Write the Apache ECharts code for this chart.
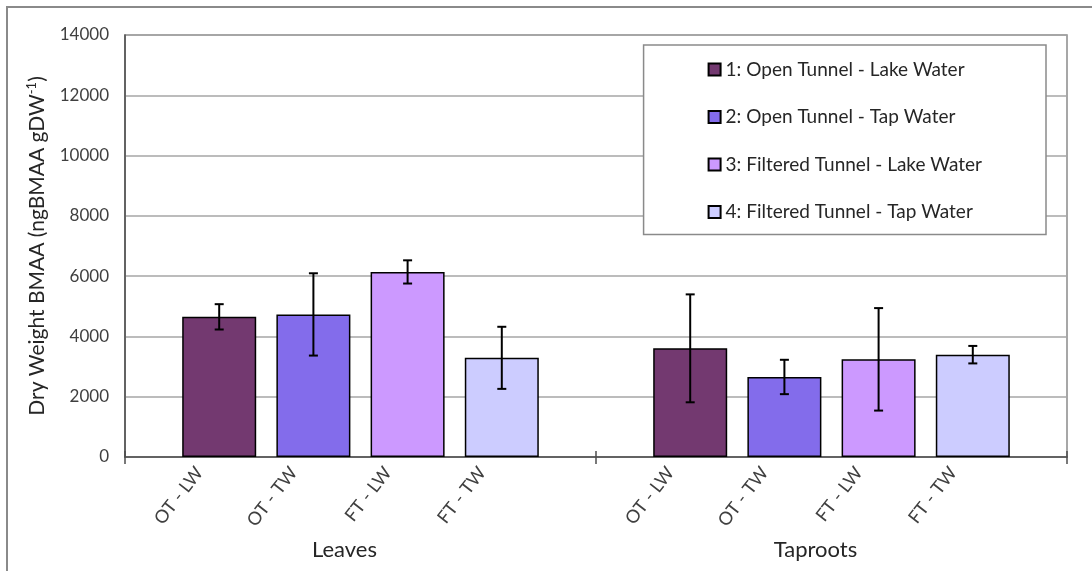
<!DOCTYPE html>
<html>
<head>
<meta charset="utf-8">
<script src="https://cdn.jsdelivr.net/npm/echarts@6/dist/echarts.min.js"></script>
<style>html,body{margin:0;padding:0;background:#fff;}#c{width:1092px;height:571px;}</style>
</head>
<body>
<div id="c"></div>
<script>
// ---- data ----
const categories = ['OT - LW', 'OT - TW', 'FT - LW', 'FT - TW'];
const groups = ['Leaves', 'Taproots'];
const seriesNames = ['1: Open Tunnel - Lake Water', '2: Open Tunnel - Tap Water', '3: Filtered Tunnel - Lake Water', '4: Filtered Tunnel - Tap Water'];
const colors = ['#733970', '#836CEB', '#CC99FF', '#CCCCFF'];
const leavesMean = [4650, 4730, 6140, 3290];
const leavesErr = [420, 1365, 385, 1030];
const taprootsMean = [3605, 2655, 3240, 3395];
const taprootsErr = [1790, 570, 1700, 290];
const yMin = 0, yMax = 14000, yStep = 2000;

// slots: blank, leaves x4, blank divider, taproots x4, blank
const slots = [''].concat(categories, [''], categories, ['']);
const leavesSlot = i => 1 + i;
const taprootsSlot = i => categories.length + 2 + i;

const barSeries = seriesNames.map((name, k) => {
  const data = slots.map(() => null);
  data[leavesSlot(k)] = leavesMean[k];
  data[taprootsSlot(k)] = taprootsMean[k];
  return {
    name, type: 'bar', data, barWidth: 74, barGap: '-100%',
    itemStyle: { color: colors[k], borderColor: '#000', borderWidth: 1.5 },
    z: 2
  };
});

const errData = [];
categories.forEach((c, i) => {
  errData.push([leavesSlot(i), leavesMean[i] - leavesErr[i], leavesMean[i] + leavesErr[i]]);
  errData.push([taprootsSlot(i), taprootsMean[i] - taprootsErr[i], taprootsMean[i] + taprootsErr[i]]);
});

const FONT = 'Lato';
const tickInterval = (idx) => slots[idx] === '';
const chart = echarts.init(document.getElementById('c'), null, { renderer: 'canvas' });
chart.setOption({
  animation: false,
  backgroundColor: '#fff',
  textStyle: { fontFamily: FONT },
  graphic: [{
    type: 'rect', z: -10, silent: true,
    shape: { x: 7, y: 7, width: 1300, height: 800 },
    style: { fill: 'none', stroke: '#8a8a8a', lineWidth: 2 }
  }],
  grid: { left: 125, right: 25, top: 35, bottom: 114, show: true, borderColor: '#8a8a8a', borderWidth: 1.5, backgroundColor: 'transparent' },
  legend: {
    orient: 'vertical', right: 46, top: 45,
    backgroundColor: '#fff', borderColor: '#8a8a8a', borderWidth: 1.5,
    padding: [15, 64, 13, 64], itemGap: 28.5, itemWidth: 12, itemHeight: 12,
    icon: 'rect',
    textStyle: { fontSize: 19, lineHeight: 19, color: '#262626', fontFamily: FONT },
    data: seriesNames
  },
  xAxis: [{
    type: 'category', data: slots, boundaryGap: false,
    axisLine: { lineStyle: { color: '#4d4d4d', width: 1.5 } },
    axisTick: { show: true, length: 7, interval: tickInterval, lineStyle: { color: '#4d4d4d', width: 1.5 } },
    axisLabel: { interval: 0, rotate: 52, fontSize: 18, color: '#404040', margin: -13, padding: [0, 32, 0, 0] },
    splitLine: { show: false }
  }, {
    type: 'category', data: groups, position: 'bottom', offset: 74,
    axisLine: { show: false }, axisTick: { show: false },
    axisLabel: { fontSize: 22, color: '#262626', padding: [0, 32, 0, 0] }
  }, {
    type: 'category', data: slots, boundaryGap: false, position: 'bottom',
    axisLine: { show: false }, axisLabel: { show: false },
    axisTick: { show: true, inside: true, length: 6, interval: tickInterval, lineStyle: { color: '#4d4d4d', width: 1.5 } }
  }],
  yAxis: {
    type: 'value', min: yMin, max: yMax, interval: yStep,
    axisLine: { show: true, lineStyle: { color: '#4d4d4d', width: 1.5 } },
    axisTick: { show: false },
    axisLabel: { fontSize: 17, color: '#404040', margin: 16, formatter: (v) => String(v) },
    splitLine: { lineStyle: { color: '#a6a6a6', width: 1.5 } },
    name: '{a|Dry Weight BMAA (ngBMAA gDW}{sup|-1}{a|)}',
    nameLocation: 'middle', nameGap: 76,
    nameTextStyle: {
      color: '#262626',
      rich: {
        a: { fontSize: 21, fontFamily: FONT, color: '#262626', lineHeight: 24 },
        sup: { fontSize: 13, fontFamily: FONT, color: '#262626', verticalAlign: 'top', lineHeight: 24 }
      }
    }
  },
  series: barSeries.concat([{
    type: 'custom', name: 'err', data: errData, z: 5,
    encode: { x: 0, y: [1, 2] },
    renderItem: (params, api) => {
      const lo = api.coord([api.value(0), api.value(1)]);
      const hi = api.coord([api.value(0), api.value(2)]);
      const cap = 4.5;
      const st = { stroke: '#000', lineWidth: 2 };
      return {
        type: 'group', children: [
          { type: 'line', shape: { x1: lo[0], y1: lo[1], x2: hi[0], y2: hi[1] }, style: st },
          { type: 'line', shape: { x1: lo[0] - cap, y1: lo[1], x2: lo[0] + cap, y2: lo[1] }, style: st },
          { type: 'line', shape: { x1: hi[0] - cap, y1: hi[1], x2: hi[0] + cap, y2: hi[1] }, style: st }
        ]
      };
    }
  }])
});
</script>
</body>
</html>
